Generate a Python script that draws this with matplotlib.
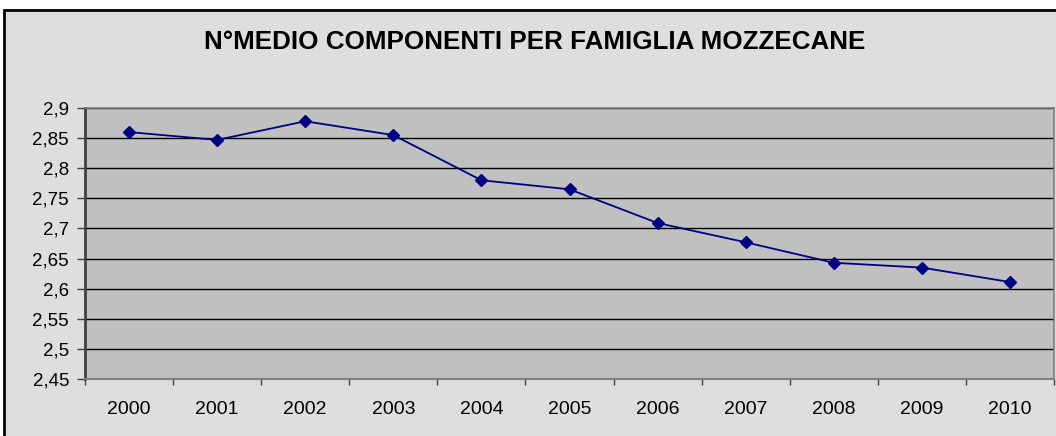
import matplotlib
matplotlib.use("Agg")
import matplotlib.pyplot as plt
from matplotlib.ticker import FixedLocator, FuncFormatter
from matplotlib.patches import Rectangle
import numpy as np

years = ["2000", "2001", "2002", "2003", "2004", "2005", "2006", "2007", "2008", "2009", "2010"]
values = [2.860, 2.847, 2.878, 2.855, 2.780, 2.765, 2.709, 2.677, 2.643, 2.635, 2.611]
title = "N°MEDIO COMPONENTI PER FAMIGLIA MOZZECANE"
y_ticks = [2.45, 2.5, 2.55, 2.6, 2.65, 2.7, 2.75, 2.8, 2.85, 2.9]

plt.rcParams['font.family'] = ['Liberation Sans', 'DejaVu Sans']

W, H = 1056, 436
fig = plt.figure(figsize=(W / 100, H / 100), dpi=100, facecolor="white")

# outer chart frame (cut at right and bottom)
frame = Rectangle((4 / W, -0.05), 1.1, (H - 10) / H + 0.05, transform=fig.transFigure,
                  facecolor="#DEDEDE", edgecolor="black", linewidth=2, zorder=-10)
fig.patches.append(frame)

ax = fig.add_axes([85 / W, (H - 379) / H, (1054 - 85) / W, (379 - 108) / H])
ax.set_zorder(1)
ax.set_facecolor("#C0C0C0")

x = np.arange(len(years))
ax.plot(x, values, color="#000080", linewidth=1.3, marker="D", markersize=6.5,
        markerfacecolor="#000080", markeredgecolor="#000080", zorder=3)

ax.set_ylim(2.45, 2.9)
ax.set_xlim(-0.5, len(years) - 0.5)
ax.yaxis.set_major_locator(FixedLocator(y_ticks))
ax.yaxis.set_major_formatter(FuncFormatter(lambda v, p: ("%.2f" % v).rstrip("0").rstrip(".").replace(".", ",")))
ax.yaxis.grid(True, color="black", linewidth=1)
ax.set_axisbelow(True)

ax.xaxis.set_major_locator(FixedLocator(np.arange(-0.5, len(years), 1.0)))
ax.xaxis.set_major_formatter(FuncFormatter(lambda v, p: ""))
ax.xaxis.set_minor_locator(FixedLocator(x))
ax.set_xticklabels(years, minor=True)
ax.tick_params(axis="x", which="major", direction="out", length=4.5, width=1, color="#404040")
ax.tick_params(axis="x", which="minor", length=0, pad=16, labelsize=14)
ax.tick_params(axis="y", direction="out", length=5.5, width=1, color="#404040", labelsize=13.5, pad=6)

for s in ["top", "right"]:
    ax.spines[s].set_color("#808080")
    ax.spines[s].set_linewidth(1.2)
ax.spines["left"].set_color("#404040")
ax.spines["left"].set_linewidth(2)
ax.spines["bottom"].set_color("#808080")
ax.spines["bottom"].set_linewidth(1.5)

fig.text(535 / W, (H - 42) / H, title, ha="center", va="center", fontsize=18.7, fontweight="bold")

fig.savefig("out.png", dpi=100, facecolor=fig.get_facecolor())
